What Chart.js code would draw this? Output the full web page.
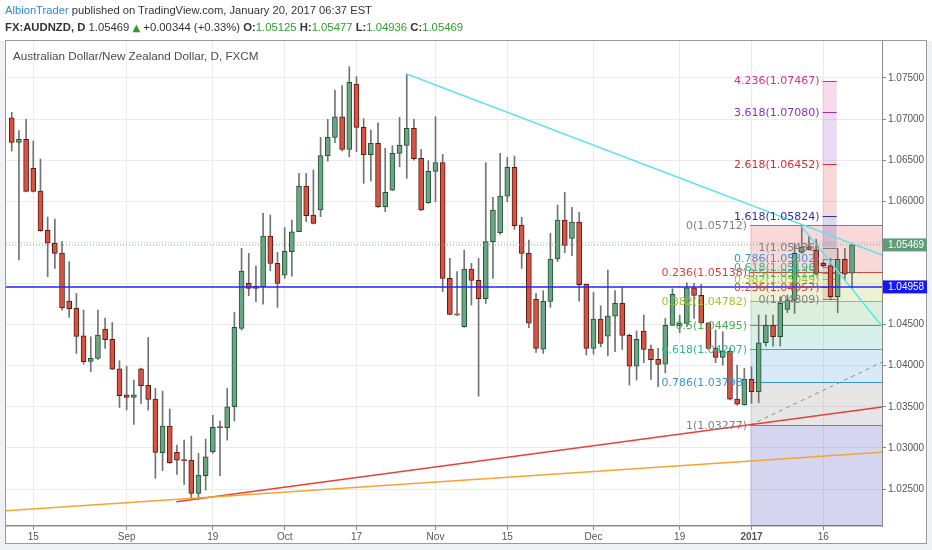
<!DOCTYPE html>
<html lang="en">
<head>
    <meta charset="UTF-8">
    <title>AUDNZD, D</title>
    <script src="https://cdn.jsdelivr.net/npm/chart.js"></script>
    <style>
        body {
            margin: 0;
            padding: 0;
            background-color: #ffffff;
            font-family: "Liberation Sans", Arial, sans-serif;
        }

        #wrap {
            position: relative;
            width: 932px;
            height: 550px;
            overflow: hidden;
        }

        #chart {
            position: absolute;
            left: 0;
            top: 0;
        }

        .hdr {
            position: absolute;
            left: 5px;
            font-size: 11.2px;
            color: #333;
            white-space: nowrap;
            line-height: 14px;
        }

        #hdr1 { top: 3px; }
        #hdr2 { top: 20px; font-size: 11.3px; }
        #hdr1 .user { color: #2e88d4; }
        #hdr2 .g { color: #2ca02c; }
        #hdr2 .tri { color: #2ca02c; font-family: "DejaVu Sans", sans-serif; font-size: 10px; }
    </style>
</head>
<body>
<div id="wrap">
    <canvas id="chart" width="932" height="550"></canvas>
    <div class="hdr" id="hdr1"><span class="user">AlbionTrader</span> published on TradingView.com, January 20, 2017 06:37 EST</div>
    <div class="hdr" id="hdr2"><b>FX:AUDNZD, D</b> 1.05469 <span class="tri">▲</span> +0.00344 (+0.33%) <b>O:</b><span class="g">1.05125</span> <b>H:</b><span class="g">1.05477</span> <b>L:</b><span class="g">1.04936</span> <b>C:</b><span class="g">1.05469</span></div>
</div>

<script>
    // daily candles, Aug 10 2016 .. Jan 20 2017 (index = trading day)
    const opens = [
        1.07016, 1.06716, 1.06753, 1.06400, 1.06124, 1.05646, 1.05491, 1.05370, 1.04786, 1.04697,
        1.04364, 1.04052, 1.04088, 1.04445, 1.04320, 1.03963, 1.03646, 1.03614, 1.03963, 1.03760,
        1.03594, 1.02941, 1.03265, 1.02945, 1.02856, 1.02852, 1.02446, 1.02661, 1.02953, 1.03257,
        1.03245, 1.03500, 1.04453, 1.05001, 1.04940, 1.04960, 1.05577, 1.05244, 1.05102, 1.05386,
        1.05629, 1.06185, 1.05832, 1.05893, 1.06554, 1.06777, 1.07028, 1.06631, 1.07426, 1.06899,
        1.06566, 1.06704, 1.05933, 1.06136, 1.06582, 1.06680, 1.06886, 1.06521, 1.05982, 1.06363,
        1.06469, 1.05062, 1.04632, 1.04474, 1.05175, 1.05037, 1.04814, 1.05508, 1.05617, 1.06063,
        1.06412, 1.05710, 1.05366, 1.04806, 1.04202, 1.04782, 1.05297, 1.05771, 1.05548, 1.05747,
        1.04993, 1.04210, 1.04567, 1.04360, 1.04603, 1.04757, 1.04368, 1.03995, 1.04421, 1.04202,
        1.04076, 1.04019, 1.04490, 1.04486, 1.04514, 1.04948, 1.04855, 1.04522, 1.04210, 1.04101,
        1.04178, 1.03594, 1.03525, 1.03833, 1.03683, 1.04279, 1.04490, 1.04352, 1.04684, 1.04798,
        1.05378, 1.05447, 1.05406, 1.05244, 1.05216, 1.04839, 1.05293, 1.05125
    ];
    const highs = [
        1.07081, 1.06858, 1.06996, 1.06732, 1.06513, 1.05808, 1.05783, 1.05508, 1.05264, 1.04879,
        1.04676, 1.04352, 1.04676, 1.04579, 1.04526, 1.04060, 1.03995, 1.03825, 1.03971, 1.04344,
        1.03723, 1.03691, 1.03472, 1.03034, 1.03095, 1.03144, 1.02933, 1.03107, 1.03395, 1.03326,
        1.03723, 1.04648, 1.05427, 1.05366, 1.05212, 1.05852, 1.05832, 1.05378, 1.05678, 1.05771,
        1.06339, 1.06339, 1.06380, 1.06777, 1.06996, 1.07353, 1.07406, 1.07637, 1.07515, 1.07004,
        1.06866, 1.06955, 1.06643, 1.06676, 1.07020, 1.07547, 1.06996, 1.06631, 1.06493, 1.07028,
        1.06570, 1.05305, 1.05143, 1.05406, 1.05244, 1.05305, 1.06469, 1.06047, 1.06582, 1.06534,
        1.06550, 1.05804, 1.05528, 1.04879, 1.04912, 1.05609, 1.05954, 1.06108, 1.05925, 1.05865,
        1.04993, 1.04891, 1.04729, 1.05163, 1.04912, 1.04952, 1.04384, 1.04421, 1.04616, 1.04251,
        1.04210, 1.04575, 1.04936, 1.04616, 1.05009, 1.05001, 1.04989, 1.04522, 1.04433, 1.04413,
        1.04210, 1.04007, 1.03967, 1.03987, 1.04616, 1.04616, 1.04616, 1.04839, 1.04859, 1.05487,
        1.05691, 1.05569, 1.05536, 1.05273, 1.05305, 1.05427, 1.05427, 1.05477
    ];
    const lows = [
        1.06611, 1.05285, 1.06112, 1.06112, 1.05634, 1.05082, 1.05183, 1.04676, 1.04587, 1.04149,
        1.04019, 1.03926, 1.04076, 1.04210, 1.03951, 1.03492, 1.03460, 1.03285, 1.03541, 1.03460,
        1.02629, 1.02722, 1.02811, 1.02677, 1.02556, 1.02385, 1.02373, 1.02487, 1.02933, 1.02661,
        1.03095, 1.03326, 1.04433, 1.04851, 1.04778, 1.04749, 1.05155, 1.04709, 1.05062, 1.05090,
        1.05629, 1.05751, 1.05723, 1.05812, 1.06489, 1.06712, 1.06611, 1.06542, 1.06603, 1.06217,
        1.06246, 1.05925, 1.05873, 1.06128, 1.06420, 1.06278, 1.06501, 1.05885, 1.05974, 1.05994,
        1.04899, 1.04616, 1.04608, 1.04466, 1.04737, 1.03630, 1.04757, 1.05062, 1.05597, 1.05994,
        1.05658, 1.05183, 1.04461, 1.04161, 1.04149, 1.04709, 1.05268, 1.05374, 1.05337, 1.04786,
        1.04129, 1.04141, 1.04230, 1.04121, 1.04170, 1.04198, 1.03764, 1.03825, 1.04036, 1.03833,
        1.03744, 1.03914, 1.04490, 1.04401, 1.04474, 1.04575, 1.04506, 1.04198, 1.04036, 1.04007,
        1.03582, 1.03521, 1.03517, 1.03541, 1.03549, 1.04238, 1.04238, 1.04238, 1.04644, 1.04636,
        1.05366, 1.05406, 1.05102, 1.05203, 1.04798, 1.04644, 1.05041, 1.04936
    ];
    const closes = [
        1.06716, 1.06753, 1.06120, 1.06120, 1.05642, 1.05491, 1.05366, 1.04701, 1.04693, 1.04356,
        1.04048, 1.04088, 1.04372, 1.04315, 1.03959, 1.03634, 1.03614, 1.03646, 1.03756, 1.03590,
        1.02945, 1.03265, 1.02819, 1.02852, 1.02848, 1.02446, 1.02669, 1.02892, 1.03249, 1.03249,
        1.03500, 1.04466, 1.05151, 1.04940, 1.04968, 1.05577, 1.05244, 1.05001, 1.05390, 1.05629,
        1.06185, 1.05824, 1.05731, 1.06554, 1.06777, 1.07028, 1.06631, 1.07446, 1.06899, 1.06566,
        1.06704, 1.05933, 1.06108, 1.06582, 1.06680, 1.06886, 1.06517, 1.05893, 1.06363, 1.06469,
        1.05062, 1.04624, 1.04616, 1.05175, 1.05037, 1.04814, 1.05508, 1.05893, 1.06063, 1.06412,
        1.05702, 1.05366, 1.04518, 1.04210, 1.04782, 1.05297, 1.05771, 1.05463, 1.05747, 1.04985,
        1.04210, 1.04567, 1.04271, 1.04603, 1.04757, 1.04368, 1.03995, 1.04319, 1.04198, 1.04072,
        1.04015, 1.04490, 1.04867, 1.04514, 1.04948, 1.04855, 1.04522, 1.04210, 1.04101, 1.04178,
        1.03594, 1.03533, 1.03833, 1.03683, 1.04279, 1.04490, 1.04352, 1.04757, 1.04798, 1.05366,
        1.05447, 1.05414, 1.05122, 1.05216, 1.04839, 1.05293, 1.05114, 1.05469
    ];

    // time axis labels (trading day index -> text)
    const tickIndex = [3, 16, 28, 38, 48, 59, 69, 81, 93, 103, 113];
    const tickText = ['15', 'Sep', '19', 'Oct', '17', 'Nov', '15', 'Dec', '19', '2017', '16'];
    const priceTicks = [1.025, 1.030, 1.035, 1.040, 1.045, 1.050, 1.055, 1.060, 1.065, 1.070, 1.075];
    const xRange = [-0.8, 121.17];
    const yRange = [1.0205, 1.07949];

    // drawings: [index, price] pairs
    const cyanLine = [[55, 1.07547], [121.17, 1.05345]];
    const cyanSteep = [[110, 1.05691], [121.17, 1.04480]];
    const redLine = [[22.9, 1.02345], [121.17, 1.03497]];
    const orangeLine = [[-0.8, 1.02236], [121.17, 1.02946]];
    const grayDashed = [[102.8, 1.03277], [121.17, 1.04041]];
    const bluePrice = 1.04958;
    const lastPrice = 1.05469;

    // fib retracement (large)
    const bigFibStart = 102.8;
    const bigFibLevels = [0, 0.236, 0.382, 0.5, 0.618, 0.786, 1, 1.618];
    const bigFibPrices = [1.05712, 1.05138, 1.04782, 1.04495, 1.04207, 1.03798, 1.03277, 1.01772];
    // fib (small, with extensions)
    const smallFibSpan = [112.9, 114.86];
    const smallFibLevels = [0, 0.236, 0.382, 0.5, 0.618, 0.786, 1, 1.618, 2.618, 3.618, 4.236];
    const smallFibPrices = [1.04809, 1.04957, 1.05049, 1.05123, 1.05196, 1.05302, 1.05436, 1.05824, 1.06452, 1.07080, 1.07467];

    const levelColors = {
        '0': '#808080', '0.236': '#e0403a', '0.382': '#a9bf2e', '0.5': '#4caf50',
        '0.618': '#2fb894', '0.786': '#3b96d6', '1': '#808080', '1.618': '#2f2fb0',
        '2.618': '#d32f2f', '3.618': '#8e30c0', '4.236': '#d6308e'
    };

    const upFill = '#6ba583', upLine = '#225437';
    const downFill = '#d75442', downLine = '#5b1a13';

    function rgba(hex, a) {
        const n = parseInt(hex.slice(1), 16);
        return `rgba(${(n >> 16) & 255},${(n >> 8) & 255},${n & 255},${a})`;
    }

    const toPts = arr => arr.map(([i, p]) => ({ x: i, y: p }));

    const isUp = opens.map((o, i) => closes[i] >= o);
    const wickData = opens.map((o, i) => ({ x: i, y: [lows[i], highs[i]] }));
    const bodyData = opens.map((o, i) => {
        let lo = Math.min(o, closes[i]), hi = Math.max(o, closes[i]);
        if (hi - lo < 0.00012) { const m = (hi + lo) / 2; lo = m - 0.00006; hi = m + 0.00006; }
        return { x: i, y: [lo, hi] };
    });

    function drawFib(ctx, x, y, x0, x1, levels, prices, alpha) {
        for (let k = 1; k < prices.length; k++) {
            const y0 = y.getPixelForValue(prices[k - 1]);
            const y1 = y.getPixelForValue(prices[k]);
            ctx.fillStyle = rgba(levelColors[String(levels[k])], alpha);
            ctx.fillRect(x0, y0, x1 - x0, y1 - y0);
        }
        ctx.lineWidth = 1;
        prices.forEach((p, k) => {
            const py = Math.round(y.getPixelForValue(p)) + 0.5;
            ctx.strokeStyle = levelColors[String(levels[k])];
            ctx.beginPath();
            ctx.moveTo(x0, py);
            ctx.lineTo(x1, py);
            ctx.stroke();
        });
    }

    function fibLabels(ctx, y, area, xr, levels, prices) {
        ctx.font = '11px "DejaVu Sans", sans-serif';
        ctx.textAlign = 'right';
        ctx.textBaseline = 'middle';
        prices.forEach((p, k) => {
            const py = y.getPixelForValue(p);
            if (py < area.top || py > area.bottom) return;
            ctx.fillStyle = levelColors[String(levels[k])];
            ctx.fillText(`${levels[k]}(${p.toFixed(5)})`, xr, py + 1);
        });
    }

    const drawings = {
        id: 'drawings',
        beforeDatasetsDraw(chart) {
            const { ctx, chartArea: a, scales: { x, y } } = chart;
            ctx.save();
            ctx.beginPath();
            ctx.rect(a.left, a.top, a.width, a.height);
            ctx.clip();
            drawFib(ctx, x, y, x.getPixelForValue(bigFibStart), a.right, bigFibLevels, bigFibPrices, 0.2);
            drawFib(ctx, x, y, x.getPixelForValue(smallFibSpan[0]), x.getPixelForValue(smallFibSpan[1]),
                smallFibLevels, smallFibPrices, 0.18);
            ctx.restore();
        },
        afterDatasetsDraw(chart) {
            const { ctx, chartArea: a, scales: { x, y } } = chart;
            ctx.save();
            fibLabels(ctx, y, a, x.getPixelForValue(bigFibStart) - 3, bigFibLevels, bigFibPrices);
            fibLabels(ctx, y, a, x.getPixelForValue(smallFibSpan[0]) - 3, smallFibLevels, smallFibPrices);
            ctx.restore();
        },
        afterDraw(chart) {
            const { ctx, chartArea: a, scales: { y } } = chart;
            ctx.save();
            // outside strips
            ctx.fillStyle = '#eff1f4';
            ctx.fillRect(0, 544, 932, 6);
            ctx.fillRect(0, 41, 5, 503);
            ctx.fillRect(927, 41, 5, 503);
            // frame
            ctx.strokeStyle = '#9a9a9a';
            ctx.lineWidth = 1;
            ctx.strokeRect(5.5, 40.5, 921, 503);

            // chart title
            ctx.font = '11.7px "Liberation Sans", Arial, sans-serif';
            ctx.fillStyle = '#4a4a4a';
            ctx.textAlign = 'left';
            ctx.textBaseline = 'middle';
            ctx.fillText('Australian Dollar/New Zealand Dollar, D, FXCM', 13, 57);

            // price boxes on the axis
            [[lastPrice, '#5f9c79'], [bluePrice, '#1515ff']].forEach(([p, c]) => {
                const py = y.getPixelForValue(p);
                ctx.fillStyle = c;
                ctx.fillRect(a.right + 1, py - 6.5, 44, 13);
                ctx.fillStyle = '#ffffff';
                ctx.font = '10px "Liberation Sans", Arial, sans-serif';
                ctx.fillText(p.toFixed(5), a.right + 6, py + 0.5);
            });
            ctx.restore();
        }
    };

    const lineSet = (pts, color, width, dash) => ({
        type: 'line',
        data: toPts(pts),
        borderColor: color,
        borderWidth: width,
        borderDash: dash || [],
        pointRadius: 0,
        fill: false,
        order: 0
    });

    // axis labels hidden behind the price boxes
    const coveredByBox = v => [bluePrice, lastPrice].some(p => Math.abs(p - v) < 0.0009);

    new Chart(document.getElementById('chart'), {
        type: 'bar',
        data: {
            datasets: [
                {
                    data: wickData,
                    backgroundColor: '#737375',
                    barThickness: 1,
                    grouped: false,
                    order: 3
                },
                {
                    data: bodyData,
                    backgroundColor: isUp.map(u => u ? upFill : downFill),
                    borderColor: isUp.map(u => u ? upLine : downLine),
                    borderWidth: 1,
                    borderSkipped: false,
                    barThickness: 5,
                    grouped: false,
                    order: 2
                },
                lineSet([[xRange[0], lastPrice], [xRange[1], lastPrice]], '#6ba583', 1, [1, 2]),
                lineSet([[xRange[0], bluePrice], [xRange[1], bluePrice]], '#2323ff', 1.5),
                lineSet(orangeLine, '#f5a431', 1.5),
                lineSet(redLine, '#e8413c', 1.5),
                lineSet(grayDashed, '#8c8c8c', 1, [4, 4]),
                lineSet(cyanLine, '#5ee3ee', 1.5),
                lineSet(cyanSteep, '#5ee3ee', 1.5)
            ]
        },
        options: {
            responsive: false,
            animation: false,
            layout: { padding: { left: 6, right: 6, top: 41, bottom: 7 } },
            plugins: { legend: { display: false }, tooltip: { enabled: false } },
            scales: {
                x: {
                    type: 'linear',
                    min: xRange[0],
                    max: xRange[1],
                    offset: false,
                    afterBuildTicks: s => { s.ticks = tickIndex.map(v => ({ value: v })); },
                    afterFit: s => { s.height = 17; },
                    grid: { color: '#ebebeb', offset: false, tickLength: 4, tickColor: '#888' },
                    border: { color: '#8a8a8a', width: 1.5 },
                    ticks: {
                        autoSkip: false,
                        maxRotation: 0,
                        padding: 1,
                        color: '#555',
                        font: c => ({
                            family: '"Liberation Sans", Arial, sans-serif',
                            size: 10,
                            weight: tickText[c.index] === '2017' ? 'bold' : 'normal'
                        }),
                        callback: (v, i) => tickText[i]
                    }
                },
                y: {
                    position: 'right',
                    min: yRange[0],
                    max: yRange[1],
                    afterBuildTicks: s => { s.ticks = priceTicks.map(v => ({ value: v })); },
                    afterFit: s => { s.width = 44; },
                    grid: { color: '#ebebeb', tickLength: 4, tickColor: '#888' },
                    border: { color: '#8a8a8a', width: 1 },
                    ticks: {
                        padding: 2,
                        color: '#555',
                        font: { family: '"Liberation Sans", Arial, sans-serif', size: 10 },
                        callback: v => coveredByBox(v) ? '' : v.toFixed(5)
                    }
                }
            }
        },
        plugins: [drawings]
    });
</script>
</body>
</html>
